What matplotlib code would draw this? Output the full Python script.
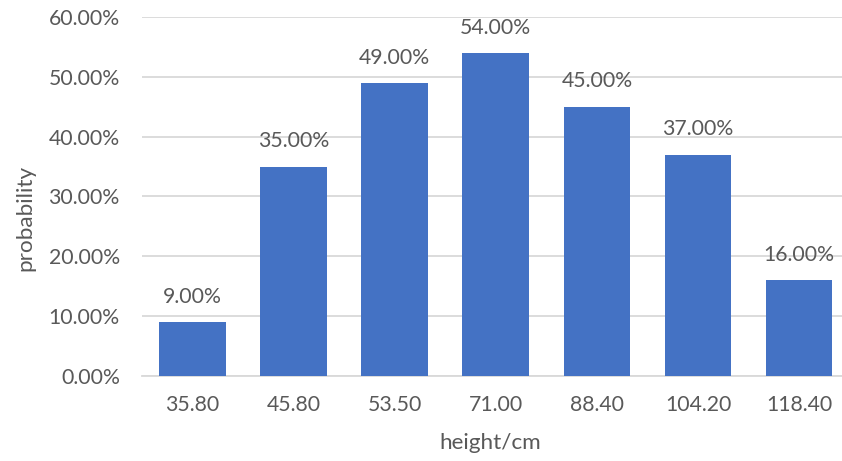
import matplotlib
matplotlib.use("Agg")
import matplotlib.pyplot as plt
from matplotlib.ticker import FuncFormatter

# donnees
heights = ["35.80", "45.80", "53.50", "71.00", "88.40", "104.20", "118.40"]
probs = [9.0, 35.0, 49.0, 54.0, 45.0, 37.0, 16.0]

plt.rcParams['font.family'] = ['Lato', 'DejaVu Sans']
txt = '#595959'
grid_col = '#D9D9D9'

fig = plt.figure(figsize=(8.42, 4.61), dpi=100)
W, H = 842, 461
ax = fig.add_axes([142 / W, (H - 376) / H, 707.6 / W, (376 - 17) / H])

x = range(len(heights))
bars = ax.bar(x, probs, width=0.66, color='#4472C4', zorder=3)

for b, v in zip(bars, probs):
    ax.annotate('%.2f%%' % v, (b.get_x() + b.get_width() / 2, v),
                xytext=(0, 11), textcoords='offset points',
                ha='center', va='bottom', fontsize=15.3, color=txt)

ax.set_xlim(-0.5, len(heights) - 0.5)
ax.set_ylim(0, 60)
ax.set_yticks(range(0, 61, 10))
ax.yaxis.set_major_formatter(FuncFormatter(lambda v, p: '%.2f%%' % v))
ax.set_xticks(list(x))
ax.set_xticklabels(heights)
ax.tick_params(axis='both', length=0, labelsize=15.3, colors=txt)
ax.tick_params(axis='y', pad=16)
ax.tick_params(axis='x', pad=14)

ax.grid(axis='y', color=grid_col, linewidth=1.3, zorder=0)
for s in ['top', 'right', 'left']:
    ax.spines[s].set_visible(False)
ax.spines['bottom'].set_color(grid_col)
ax.spines['bottom'].set_linewidth(1.3)

fig.text(25 / W, 1 - 218 / H, 'probability', rotation=90, ha='center', va='center',
         fontsize=16.2, color=txt)
fig.text(490 / W, 1 - 443 / H, 'height/cm', ha='center', va='center',
         fontsize=16.2, color=txt)

fig.savefig('out.png', dpi=100)
